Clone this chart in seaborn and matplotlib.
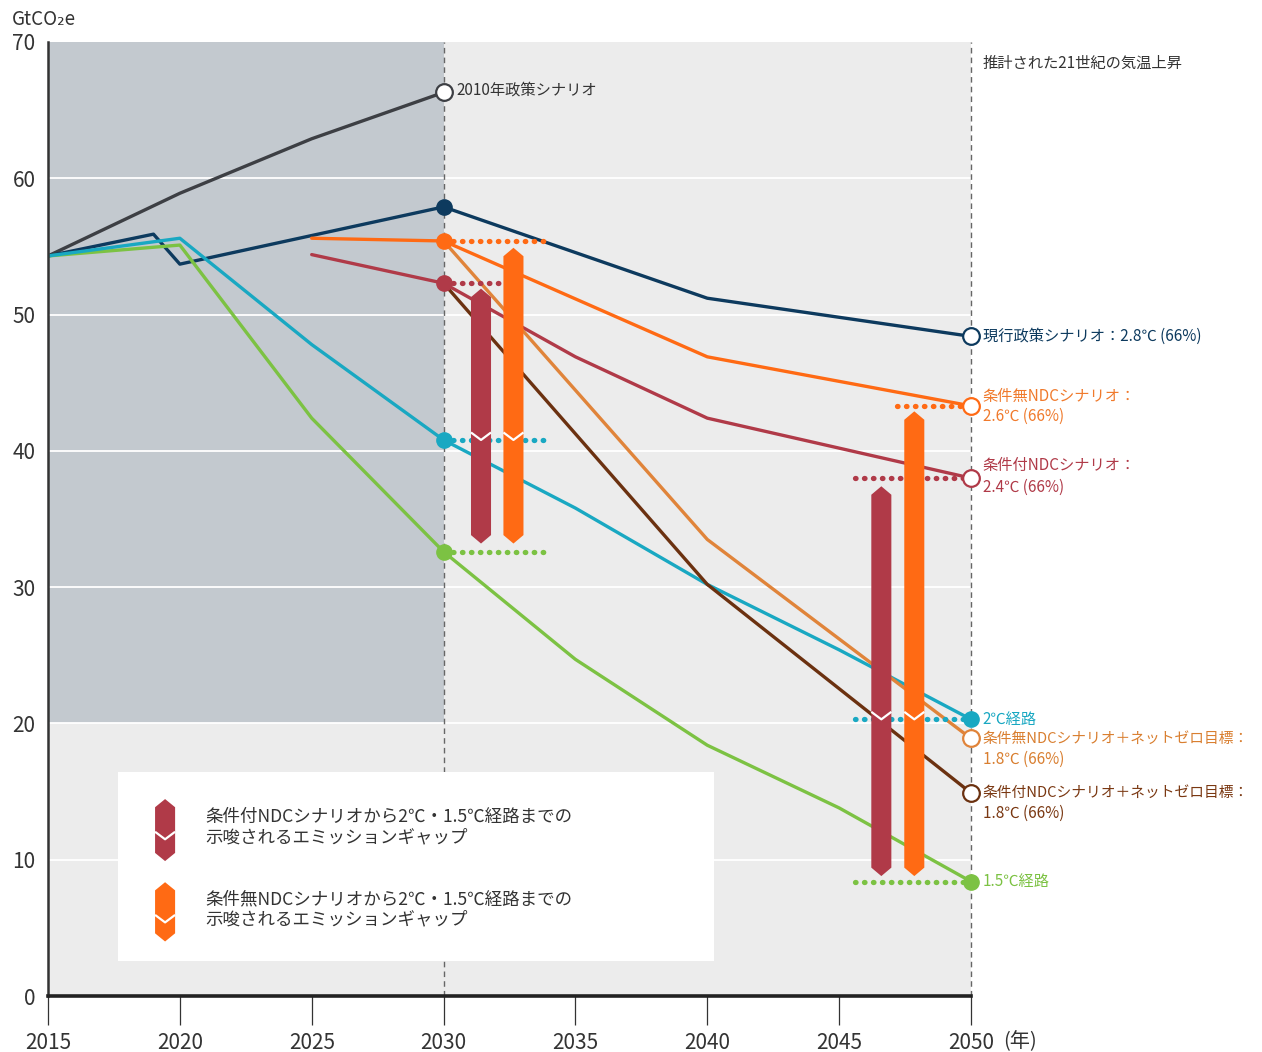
import numpy as np
import pandas as pd
import matplotlib
matplotlib.use("Agg")
import matplotlib.pyplot as plt
import seaborn as sns
from matplotlib.patches import Polygon, Rectangle

sns.set_theme(style="white")
plt.rcParams['font.family'] = ['Noto Sans CJK JP', 'DejaVu Sans']

# ---------------- data ----------------
years_2010 = [2015, 2020, 2025, 2030]
vals_2010 = [54.3, 58.9, 62.9, 66.3]
years_cur = [2015, 2019, 2020, 2030, 2040, 2050]
vals_cur = [54.3, 55.9, 53.7, 57.9, 51.2, 48.4]
years_2c = [2015, 2020, 2025, 2030, 2035, 2040, 2045, 2050]
vals_2c = [54.3, 55.6, 47.8, 40.8, 35.8, 30.2, 25.4, 20.3]
years_15 = [2015, 2020, 2025, 2030, 2035, 2040, 2045, 2050]
vals_15 = [54.3, 55.1, 42.4, 32.6, 24.7, 18.4, 13.8, 8.4]
years_uncond = [2025, 2030, 2040, 2050]
vals_uncond = [55.6, 55.4, 46.9, 43.3]
years_cond = [2025, 2030, 2035, 2040, 2050]
vals_cond = [54.4, 52.3, 46.9, 42.4, 38.0]
years_uncond_nz = [2030, 2040, 2050]
vals_uncond_nz = [55.4, 33.5, 18.9]
years_cond_nz = [2030, 2040, 2050]
vals_cond_nz = [52.3, 30.2, 14.9]

# emission gap bars
gap_x = [2031.42, 2032.65, 2046.6, 2047.85]
gap_top = [51.9, 54.9, 37.4, 42.9]
gap_bottom = [33.2, 33.2, 8.8, 8.8]
gap_notch = [40.8, 40.8, 20.3, 20.3]
gap_kind = ['cond', 'uncond', 'cond', 'uncond']

# dotted reference lines: (y, x_start, x_end, series)
dot_y = [55.4, 52.3, 40.8, 32.6, 43.3, 38.0, 20.3, 8.4]
dot_x0 = [2030, 2030, 2030, 2030, 2047.2, 2045.6, 2045.6, 2045.6]
dot_x1 = [2033.8, 2032.2, 2033.8, 2033.8, 2050, 2050, 2050, 2050]
dot_series = ['uncond', 'cond', '2c', '15', 'uncond', 'cond', '2c', '15']

colors = {
    '2010': '#3d3f44',
    'cur': '#0d3a5e',
    '2c': '#19a8c2',
    '15': '#7cc243',
    'uncond': '#ff6a14',
    'cond': '#b03a48',
    'uncond_nz': '#e0843a',
    'cond_nz': '#6b3110',
}

series = {
    '2010': (years_2010, vals_2010),
    'cur': (years_cur, vals_cur),
    '15': (years_15, vals_15),
    '2c': (years_2c, vals_2c),
    'cond': (years_cond, vals_cond),
    'uncond': (years_uncond, vals_uncond),
    'uncond_nz': (years_uncond_nz, vals_uncond_nz),
    'cond_nz': (years_cond_nz, vals_cond_nz),
}
rows = []
for k, (xs, ys) in series.items():
    for x, y in zip(xs, ys):
        rows.append({'year': x, 'value': y, 'series': k})
df = pd.DataFrame(rows)

# ---------------- figure ----------------
fig = plt.figure(figsize=(12.62, 10.52), dpi=100)
ax = fig.add_axes([0.03803, 0.05323, 0.73138, 0.90685])
ax.set_facecolor('#ececec')
ax.set_xlim(2015, 2050)
ax.set_ylim(0, 70)

ax.add_patch(Rectangle((2015, 20), 15, 50, facecolor='#c3c9cf', edgecolor='none', zorder=0.5))
for g in range(10, 70, 10):
    ax.axhline(g, color='white', lw=1.3, zorder=0.8)
for xv in (2030, 2050):
    ax.axvline(xv, color='#666666', lw=1.0, ls=(0, (4, 3)), zorder=0.9, clip_on=False)

sns.lineplot(data=df, x='year', y='value', hue='series', palette=colors,
             sort=False, estimator=None, legend=False, lw=2.4, ax=ax, zorder=2)

# dotted lines
for y, x0, x1, s in zip(dot_y, dot_x0, dot_x1, dot_series):
    ax.plot([x0, x1], [y, y], color=colors[s], lw=3.8, ls=(0, (0.1, 1.6)),
            dash_capstyle='round', zorder=2.5)


def gap_bar(x, top, bottom, notch, color, w=0.38, tip=0.62, zorder=3):
    pts = [(x - w, top - tip), (x, top), (x + w, top - tip),
           (x + w, bottom + tip), (x, bottom), (x - w, bottom + tip)]
    ax.add_patch(Polygon(pts, closed=True, facecolor=color, edgecolor='none', zorder=zorder))
    ax.plot([x - w, x, x + w], [notch + 0.55, notch, notch + 0.55], color='white',
            lw=1.6, zorder=zorder + 0.1, solid_capstyle='butt', clip_on=False)


for x, t, b, n, k in zip(gap_x, gap_top, gap_bottom, gap_notch, gap_kind):
    gap_bar(x, t, b, n, colors[k])

# markers
ms_fill = 11
for s in ['cur', 'uncond', 'cond', '2c', '15']:
    xs, ys = series[s]
    ax.plot(2030, ys[xs.index(2030)], 'o', color=colors[s], ms=ms_fill, zorder=5)
ax.plot(2030, vals_2010[-1], 'o', mfc='white', mec=colors['2010'], mew=1.6, ms=12, zorder=5, clip_on=False)
for s in ['cur', 'uncond', 'cond', 'uncond_nz', 'cond_nz']:
    xs, ys = series[s]
    ax.plot(2050, ys[-1], 'o', mfc='white', mec=colors[s], mew=1.6, ms=12, zorder=5, clip_on=False)
for s in ['2c', '15']:
    xs, ys = series[s]
    ax.plot(2050, ys[-1], 'o', color=colors[s], ms=ms_fill, zorder=5, clip_on=False)

# legend box
ax.add_patch(Rectangle((2017.65, 2.6), 22.6, 13.8, facecolor='white', edgecolor='none', zorder=6))
gap_bar(2019.44, 14.45, 9.9, 11.5, colors['cond'], w=0.38, tip=0.6, zorder=7)
gap_bar(2019.44, 8.35, 4.0, 5.4, colors['uncond'], w=0.38, tip=0.6, zorder=7)
leg_fs = 12.6
ax.text(2020.95, 13.1, '条件付NDCシナリオから2℃・1.5℃経路までの', fontsize=leg_fs, color='#333333', va='center', zorder=8)
ax.text(2020.95, 11.6, '示唆されるエミッションギャップ', fontsize=leg_fs, color='#333333', va='center', zorder=8)
ax.text(2020.95, 7.1, '条件無NDCシナリオから2℃・1.5℃経路までの', fontsize=leg_fs, color='#333333', va='center', zorder=8)
ax.text(2020.95, 5.6, '示唆されるエミッションギャップ', fontsize=leg_fs, color='#333333', va='center', zorder=8)

# annotations
lab_fs = 11.0
nz_fs = 10.6
lx = 2050.45
ax.text(2030.5, 66.5, '2010年政策シナリオ', fontsize=lab_fs, color='#333333', va='center')
ax.text(lx, 68.4, '推計された21世紀の気温上昇', fontsize=lab_fs, color='#333333', va='center', clip_on=False)
ax.text(lx, 48.4, '現行政策シナリオ：2.8℃ (66%)', fontsize=lab_fs, color=colors['cur'], va='center', clip_on=False)
ax.text(lx, 44.0, '条件無NDCシナリオ：', fontsize=lab_fs, color='#f07a2c', va='center', clip_on=False)
ax.text(lx, 42.5, '2.6℃ (66%)', fontsize=lab_fs, color='#f07a2c', va='center', clip_on=False)
ax.text(lx, 38.9, '条件付NDCシナリオ：', fontsize=lab_fs, color=colors['cond'], va='center', clip_on=False)
ax.text(lx, 37.3, '2.4℃ (66%)', fontsize=lab_fs, color=colors['cond'], va='center', clip_on=False)
ax.text(lx, 20.3, '2℃経路', fontsize=lab_fs, color=colors['2c'], va='center', clip_on=False)
ax.text(lx, 18.9, '条件無NDCシナリオ＋ネットゼロ目標：', fontsize=nz_fs, color='#d97f30', va='center', clip_on=False)
ax.text(lx, 17.4, '1.8℃ (66%)', fontsize=lab_fs, color='#d97f30', va='center', clip_on=False)
ax.text(lx, 14.9, '条件付NDCシナリオ＋ネットゼロ目標：', fontsize=nz_fs, color='#7a3812', va='center', clip_on=False)
ax.text(lx, 13.4, '1.8℃ (66%)', fontsize=lab_fs, color='#7a3812', va='center', clip_on=False)
ax.text(lx, 8.4, '1.5℃経路', fontsize=lab_fs, color=colors['15'], va='center', clip_on=False)

# axes styling
for sp in ['top', 'right']:
    ax.spines[sp].set_visible(False)
ax.spines['left'].set_color('#333333')
ax.spines['left'].set_linewidth(1.8)
ax.spines['bottom'].set_color('#222222')
ax.spines['bottom'].set_linewidth(2.6)
ax.spines['left'].set_zorder(10)
ax.spines['bottom'].set_zorder(10)

ax.set_xticks(range(2015, 2051, 5))
ax.set_xticklabels([str(y) for y in range(2015, 2051, 5)])
ax.set_yticks(range(0, 71, 10))
ax.tick_params(axis='x', direction='out', length=21, width=0.9, color='#333333',
               labelsize=15, labelcolor='#333333', pad=5, bottom=True)
ax.tick_params(axis='y', length=0, labelsize=15, labelcolor='#333333', pad=9, left=True)
ax.set_xlabel('')
ax.set_ylabel('')
ax.grid(False)
ax.text(2051.2, -3.35, '(年)', fontsize=14.5, color='#333333', va='center', clip_on=False)
fig.text(0.0095, 0.981, 'GtCO₂e', fontsize=13.5, color='#333333', va='center')

fig.savefig('out.png', dpi=100)
